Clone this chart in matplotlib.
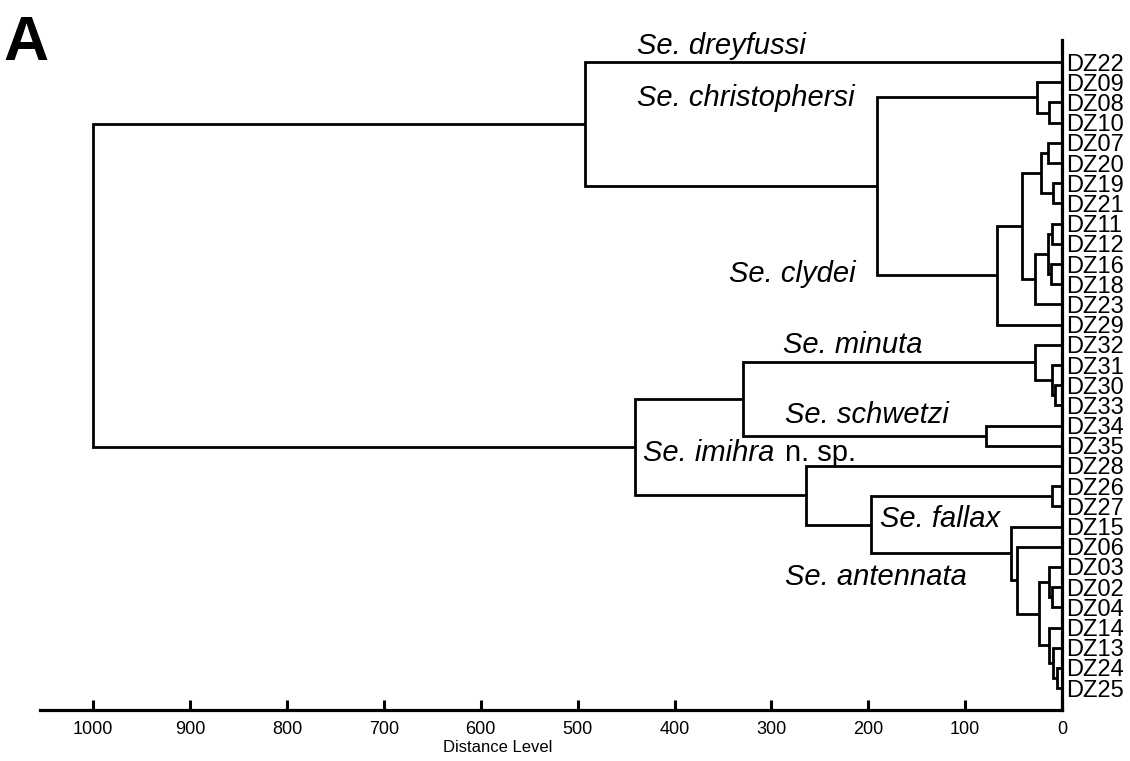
import matplotlib
matplotlib.use("Agg")
import matplotlib.pyplot as plt

plt.rcParams.update({
    "font.family": ["Liberation Sans", "DejaVu Sans"],
})

# ---------------------------------------------------------------------------
# Data: leaf order (top to bottom) and merges (children listed before parents)
# ---------------------------------------------------------------------------

LEAVES = ["DZ22", "DZ09", "DZ08", "DZ10", "DZ07", "DZ20", "DZ19", "DZ21",
          "DZ11", "DZ12", "DZ16", "DZ18", "DZ23", "DZ29", "DZ32", "DZ31",
          "DZ30", "DZ33", "DZ34", "DZ35", "DZ28", "DZ26", "DZ27", "DZ15",
          "DZ06", "DZ03", "DZ02", "DZ04", "DZ14", "DZ13", "DZ24", "DZ25"]

NODE_NAMES = ["n0810", "chris", "n0720", "n1921", "n07_21", "n1112", "n1618",
              "n11_18", "n11_23", "n07_23", "clydei", "chris_clyd", "upper",
              "n3033", "n31", "minuta", "schwetzi", "min_sch",
              "fallax", "n0204", "n03", "n2425", "n13", "n14", "n03_25",
              "n06", "antennata", "fal_ant", "imihra", "lower", "root"]
NODE_LEFT = ["DZ08", "DZ09", "DZ07", "DZ19", "n0720", "DZ11", "DZ16",
             "n1112", "n11_18", "n07_21", "n07_23", "chris", "DZ22",
             "DZ30", "DZ31", "DZ32", "DZ34", "minuta",
             "DZ26", "DZ02", "DZ03", "DZ24", "DZ13", "DZ14", "n03",
             "DZ06", "DZ15", "fallax", "DZ28", "min_sch", "upper"]
NODE_RIGHT = ["DZ10", "n0810", "DZ20", "DZ21", "n1921", "DZ12", "DZ18",
              "n1618", "DZ23", "n11_23", "DZ29", "clydei", "chris_clyd",
              "DZ33", "n3033", "n31", "DZ35", "schwetzi",
              "DZ27", "DZ04", "n0204", "DZ25", "n2425", "n13", "n14",
              "n03_25", "n06", "antennata", "fal_ant", "imihra", "lower"]
NODE_DIST = [13, 26, 14, 9, 22, 10, 11,
             14, 28, 41, 67, 191, 492,
             7, 10, 28, 78, 329,
             10, 10, 13, 5, 9, 13, 24,
             46, 53, 197, 264, 441, 1000]

SPECIES = ["Se. dreyfussi", "Se. christophersi", "Se. clydei", "Se. minuta",
           "Se. schwetzi", "Se. fallax", "Se. antennata"]

X_TICKS = list(range(0, 1001, 100))

# label anchors (distance, leaf row) — layout only
SPECIES_POS = [(439, -0.78), (439, 1.8), (344, 10.5), (288, 14.0),
               (286, 17.5), (188, 22.6), (286, 25.5)]
IMIHRA_POS = (433, 19.75)   # baseline

# ---------------------------------------------------------------------------
# Plot
# ---------------------------------------------------------------------------

fig = plt.figure(figsize=(11.3, 7.61), dpi=100)
ax = fig.add_axes([40 / 1130, 1 - 710 / 761, (1062 - 40) / 1130, 670 / 761])

pos = {leaf: (0.0, float(i)) for i, leaf in enumerate(LEAVES)}
for name, left, right, dist in zip(NODE_NAMES, NODE_LEFT, NODE_RIGHT, NODE_DIST):
    (xl, yl), (xr, yr) = pos[left], pos[right]
    ax.plot([xl, dist, dist, xr], [yl, yl, yr, yr], color="black",
            linewidth=2.0, solid_joinstyle="miter", solid_capstyle="butt")
    pos[name] = (dist, (yl + yr) / 2)

ax.set_xlim(1055, 0)
ax.set_ylim(len(LEAVES) + 0.08, -1.09)

for side in ("left", "top"):
    ax.spines[side].set_visible(False)
for side in ("right", "bottom"):
    ax.spines[side].set_linewidth(2.3)

ax.set_xticks(X_TICKS)
ax.set_xticklabels([str(t) for t in X_TICKS])
ax.tick_params(axis="x", direction="in", length=7, width=2.2, labelsize=13, pad=8)

ax.yaxis.tick_right()
ax.set_yticks(range(len(LEAVES)))
ax.set_yticklabels(LEAVES)
ax.tick_params(axis="y", length=0, labelsize=17, pad=3)

ax.set_xlabel("Distance Level", fontsize=12, labelpad=2)
ax.xaxis.set_label_coords(0.448, -0.045)

for label, (x, y) in zip(SPECIES, SPECIES_POS):
    ax.text(x, y, label, fontsize=21, fontstyle="italic", ha="left", va="center")

# "Se. imihra" in italics followed by upright "n. sp."
t_imihra = ax.text(IMIHRA_POS[0], IMIHRA_POS[1], "Se. imihra", fontsize=21,
                   fontstyle="italic", ha="left", va="baseline")
fig.canvas.draw()
w = t_imihra.get_window_extent().width
ax.annotate("n. sp.", xy=IMIHRA_POS, xytext=(w + 11, 0), textcoords="offset pixels",
            fontsize=21, ha="left", va="baseline")

fig.text(0.003, 0.982, "A", fontsize=45, fontweight="bold", ha="left", va="top")

fig.savefig("out.png", dpi=100)
